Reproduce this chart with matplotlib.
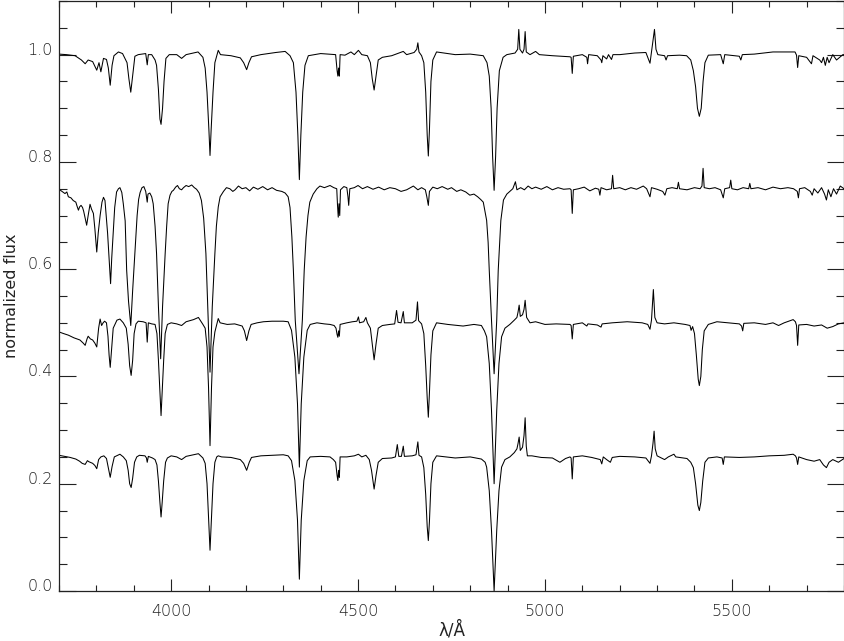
import matplotlib
matplotlib.use("Agg")
import matplotlib.pyplot as plt
from matplotlib.ticker import MultipleLocator

#===== DATA (wavelength in Angstrom, normalized flux) =====
# top spectrum, continuum ~1.0
spec_top = [
    (3700, 1.001), (3720, 1.000), (3743, 0.998), (3760, 0.990), (3770, 0.983), (3778, 0.990),
    (3790, 0.987), (3801, 0.971), (3807, 0.985), (3812, 0.968), (3819, 0.993), (3827, 0.991),
    (3832, 0.975), (3837, 0.943), (3842, 0.980), (3847, 0.998), (3859, 1.005), (3870, 1.002),
    (3882, 0.985), (3887, 0.955), (3892, 0.930), (3897, 0.960), (3903, 0.997), (3912, 1.000),
    (3932, 1.002), (3936, 0.981), (3939, 1.000), (3948, 1.000), (3957, 0.990), (3961, 0.980),
    (3966, 0.935), (3970, 0.880), (3973, 0.870), (3977, 0.900), (3981, 0.950), (3986, 0.993),
    (3995, 1.000), (4015, 1.000), (4028, 0.993), (4040, 1.000), (4072, 1.005), (4085, 0.995),
    (4091, 0.975), (4096, 0.930), (4101, 0.860), (4104, 0.812), (4107, 0.860), (4112, 0.930),
    (4117, 0.985), (4126, 1.008), (4132, 1.000), (4160, 0.998), (4185, 0.994), (4194, 0.985),
    (4202, 0.972), (4208, 0.985), (4215, 0.996), (4240, 1.000), (4280, 1.004), (4305, 1.006),
    (4318, 0.998), (4327, 0.985), (4334, 0.930), (4339, 0.850), (4343, 0.767), (4347, 0.850),
    (4352, 0.930), (4358, 0.980), (4367, 0.998), (4400, 1.002), (4440, 1.000), (4444, 0.970),
    (4446, 0.960), (4448, 0.975), (4450, 0.960), (4452, 1.000), (4465, 0.999), (4481, 1.005),
    (4490, 1.000), (4501, 1.008), (4510, 1.000), (4525, 0.998), (4533, 0.985), (4538, 0.955),
    (4543, 0.934), (4548, 0.960), (4554, 0.990), (4565, 0.995), (4590, 0.998), (4621, 1.006),
    (4630, 1.000), (4650, 1.004), (4657, 1.010), (4660, 1.022), (4663, 1.005), (4670, 0.998),
    (4676, 0.985), (4681, 0.930), (4685, 0.850), (4688, 0.811), (4691, 0.860), (4695, 0.950),
    (4700, 0.990), (4710, 1.005), (4760, 1.000), (4800, 1.001), (4835, 0.998), (4845, 0.985),
    (4851, 0.960), (4856, 0.900), (4860, 0.810), (4864, 0.747), (4868, 0.810), (4872, 0.900),
    (4878, 0.970), (4888, 0.995), (4898, 1.000), (4920, 1.003), (4927, 1.010), (4930, 1.047),
    (4933, 1.010), (4940, 1.003), (4944, 1.010), (4947, 1.043), (4950, 1.005), (4960, 1.000),
    (4975, 1.006), (4985, 1.000), (5020, 0.998), (5067, 0.996), (5070, 0.995), (5073, 0.965),
    (5076, 0.997), (5100, 1.000), (5112, 0.995), (5114, 0.983), (5117, 1.000), (5140, 0.998),
    (5150, 0.990), (5152, 0.985), (5155, 0.998), (5165, 0.992), (5170, 1.000), (5178, 0.991),
    (5182, 1.000), (5200, 1.000), (5240, 1.003), (5270, 1.004), (5281, 0.984), (5285, 1.005),
    (5290, 1.030), (5293, 1.047), (5297, 1.010), (5302, 1.000), (5320, 0.998), (5324, 0.990),
    (5328, 0.998), (5360, 0.999), (5379, 0.998), (5390, 0.990), (5397, 0.970), (5403, 0.940),
    (5408, 0.900), (5413, 0.885), (5418, 0.900), (5423, 0.950), (5428, 0.985), (5437, 0.999),
    (5470, 1.000), (5477, 0.983), (5481, 1.000), (5520, 0.997), (5524, 0.990), (5528, 1.000),
    (5560, 1.001), (5610, 1.005), (5669, 1.005), (5673, 0.999), (5676, 0.976), (5679, 0.998),
    (5700, 0.995), (5713, 0.983), (5717, 0.998), (5735, 0.990), (5740, 0.985), (5745, 0.995),
    (5750, 0.980), (5755, 0.995), (5760, 0.985), (5770, 1.000), (5780, 0.990), (5797, 1.000),
    (5800, 1.000),
]

# second spectrum, continuum ~0.75, broad Balmer lines
spec_second = [
    (3700, .749), (3708, .745), (3716, .741), (3721, .744), (3725, .735), (3732, .733),
    (3738, .728), (3745, .725), (3749, .716), (3752, .710), (3755, .716), (3759, .719),
    (3763, .715), (3766, .708), (3770, .695), (3774, .682), (3778, .700), (3783, .721),
    (3787, .712), (3792, .704), (3796, .675), (3801, .632), (3805, .668), (3810, .700),
    (3815, .725), (3819, .734), (3823, .728), (3830, .667), (3834, .620), (3838, .573),
    (3841, .620), (3845, .667), (3849, .715), (3854, .744), (3859, .750), (3863, .752),
    (3868, .743), (3872, .722), (3877, .690), (3881, .598), (3886, .540), (3892, .495),
    (3897, .560), (3903, .629), (3909, .700), (3913, .730), (3917, .743), (3922, .752),
    (3927, .754), (3932, .745), (3934, .735), (3936, .725), (3938, .740), (3943, .742),
    (3948, .735), (3952, .722), (3957, .680), (3961, .629), (3966, .530), (3972, .433),
    (3977, .530), (3984, .629), (3988, .680), (3992, .722), (3997, .738), (4002, .745),
    (4006, .747), (4012, .753), (4017, .756), (4022, .750), (4028, .748), (4033, .752),
    (4040, .756), (4047, .754), (4055, .757), (4062, .752), (4068, .749), (4075, .742),
    (4081, .728), (4087, .695), (4093, .629), (4098, .530), (4104, .408), (4110, .530),
    (4117, .629), (4121, .680), (4126, .716), (4131, .735), (4140, .745), (4148, .752),
    (4157, .750), (4165, .745), (4171, .748), (4180, .755), (4190, .750), (4200, .752),
    (4210, .746), (4220, .753), (4232, .749), (4245, .754), (4258, .748), (4270, .752),
    (4282, .747), (4296, .745), (4305, .742), (4313, .735), (4318, .715), (4323, .660),
    (4327, .598), (4332, .505), (4342, .405), (4351, .505), (4356, .598), (4361, .660),
    (4366, .700), (4371, .725), (4380, .740), (4390, .750), (4398, .755), (4410, .752),
    (4425, .756), (4435, .752), (4443, .750), (4445, .720), (4447, .697), (4449, .722),
    (4451, .700), (4453, .748), (4462, .754), (4470, .752), (4473, .735), (4475, .719),
    (4478, .750), (4490, .752), (4500, .756), (4512, .750), (4525, .754), (4540, .749),
    (4555, .753), (4570, .748), (4585, .752), (4600, .750), (4615, .745), (4630, .748),
    (4640, .752), (4648, .755), (4660, .748), (4670, .752), (4680, .748), (4684, .735),
    (4688, .719), (4691, .745), (4700, .753), (4712, .750), (4725, .754), (4740, .749),
    (4750, .752), (4764, .745), (4775, .748), (4788, .744), (4799, .738), (4810, .740),
    (4820, .735), (4828, .730), (4835, .725), (4844, .691), (4848, .650), (4851, .598),
    (4857, .505), (4864, .405), (4871, .505), (4875, .598), (4879, .650), (4882, .691),
    (4889, .729), (4898, .740), (4906, .745), (4914, .750), (4921, .763), (4925, .748),
    (4935, .752), (4945, .748), (4955, .755), (4965, .750), (4975, .753), (4990, .749),
    (5005, .754), (5020, .748), (5035, .752), (5050, .749), (5067, .750), (5070, .748),
    (5073, .704), (5076, .748), (5090, .750), (5105, .753), (5120, .746), (5135, .751),
    (5144, .749), (5147, .738), (5150, .752), (5165, .748), (5178, .750), (5181, .775),
    (5184, .750), (5200, .752), (5215, .748), (5230, .752), (5245, .749), (5263, .755),
    (5272, .750), (5281, .735), (5285, .752), (5300, .749), (5315, .745), (5321, .738),
    (5326, .750), (5340, .752), (5354, .750), (5357, .762), (5360, .750), (5380, .748),
    (5400, .752), (5415, .750), (5420, .755), (5423, .788), (5426, .752), (5440, .750),
    (5455, .752), (5470, .748), (5477, .733), (5481, .750), (5494, .752), (5497, .766),
    (5500, .750), (5515, .748), (5530, .752), (5545, .750), (5548, .760), (5551, .750),
    (5570, .752), (5590, .748), (5610, .753), (5630, .750), (5650, .752), (5665, .750),
    (5675, .745), (5678, .733), (5681, .750), (5695, .752), (5710, .745), (5715, .738),
    (5720, .750), (5730, .742), (5740, .752), (5748, .740), (5753, .729), (5758, .748),
    (5765, .735), (5772, .750), (5780, .740), (5790, .755), (5800, .750),
]

# third spectrum, continuum ~0.5
spec_third = [
    (3700, .483), (3712, .480), (3725, .477), (3740, .472), (3756, .468), (3765, .462),
    (3770, .458), (3775, .470), (3778, .475), (3784, .470), (3790, .468), (3796, .462),
    (3801, .455), (3806, .490), (3810, .507), (3814, .495), (3818, .500), (3822, .503),
    (3827, .500), (3831, .475), (3834, .440), (3837, .417), (3840, .445), (3845, .490),
    (3855, .505), (3863, .507), (3872, .500), (3880, .490), (3885, .460), (3889, .420),
    (3893, .402), (3897, .430), (3901, .480), (3906, .498), (3912, .503), (3925, .502),
    (3933, .500), (3936, .464), (3939, .500), (3948, .498), (3957, .497), (3962, .480),
    (3966, .430), (3970, .370), (3973, .327), (3976, .370), (3980, .430), (3984, .480),
    (3990, .497), (4000, .500), (4015, .498), (4028, .495), (4040, .502), (4060, .506),
    (4073, .510), (4085, .497), (4091, .490), (4096, .455), (4100, .380), (4104, .271),
    (4108, .380), (4112, .455), (4117, .483), (4123, .500), (4126, .508), (4131, .500),
    (4150, .497), (4170, .498), (4190, .494), (4196, .485), (4202, .467), (4208, .485),
    (4214, .497), (4230, .500), (4247, .502), (4270, .503), (4300, .503), (4313, .502),
    (4322, .486), (4331, .436), (4338, .349), (4343, .231), (4348, .349), (4355, .436),
    (4364, .486), (4372, .497), (4390, .500), (4410, .498), (4425, .497), (4436, .495),
    (4441, .490), (4444, .478), (4446, .473), (4448, .485), (4450, .475), (4452, .497),
    (4470, .500), (4485, .502), (4497, .503), (4501, .511), (4504, .500), (4515, .502),
    (4521, .510), (4525, .500), (4533, .490), (4538, .460), (4543, .431), (4548, .460),
    (4554, .490), (4565, .495), (4585, .497), (4598, .498), (4603, .523), (4607, .501),
    (4615, .500), (4621, .521), (4624, .500), (4645, .500), (4655, .505), (4659, .539),
    (4662, .504), (4670, .498), (4676, .480), (4681, .420), (4685, .360), (4688, .324),
    (4691, .370), (4695, .440), (4700, .485), (4710, .500), (4740, .497), (4781, .494),
    (4810, .497), (4830, .495), (4838, .485), (4844, .474), (4851, .424), (4857, .337),
    (4864, .200), (4871, .337), (4877, .424), (4884, .474), (4893, .490), (4906, .497),
    (4918, .505), (4925, .510), (4928, .520), (4931, .533), (4934, .512), (4940, .515),
    (4944, .525), (4947, .542), (4951, .510), (4960, .500), (4975, .502), (5000, .497),
    (5030, .498), (5067, .497), (5070, .495), (5073, .470), (5076, .497), (5100, .500),
    (5112, .494), (5115, .498), (5140, .496), (5150, .492), (5153, .498), (5180, .500),
    (5220, .502), (5260, .500), (5275, .497), (5281, .488), (5285, .505), (5290, .562),
    (5294, .510), (5300, .500), (5320, .498), (5345, .500), (5375, .497), (5388, .495),
    (5391, .486), (5395, .493), (5400, .480), (5405, .440), (5410, .395), (5413, .383),
    (5417, .400), (5421, .450), (5426, .485), (5437, .497), (5460, .502), (5490, .500),
    (5520, .498), (5526, .494), (5529, .485), (5532, .499), (5560, .500), (5590, .497),
    (5610, .500), (5625, .495), (5640, .500), (5664, .506), (5670, .502), (5673, .495),
    (5676, .458), (5679, .496), (5700, .497), (5720, .494), (5740, .496), (5755, .490),
    (5770, .493), (5785, .498), (5800, .500),
]

# bottom spectrum, continuum ~0.25
spec_bottom = [
    (3700, .253), (3715, .251), (3730, .249), (3745, .246), (3755, .242), (3762, .238),
    (3770, .236), (3776, .243), (3780, .241), (3790, .238), (3796, .234), (3801, .228),
    (3806, .245), (3812, .250), (3820, .252), (3827, .247), (3832, .230), (3837, .212),
    (3842, .232), (3848, .250), (3863, .255), (3872, .250), (3880, .243), (3885, .225),
    (3889, .200), (3893, .193), (3897, .210), (3902, .240), (3908, .250), (3915, .253),
    (3930, .252), (3934, .248), (3936, .240), (3939, .251), (3950, .248), (3957, .245),
    (3962, .235), (3966, .205), (3970, .165), (3973, .138), (3976, .165), (3980, .205),
    (3985, .240), (3990, .248), (4000, .252), (4015, .250), (4028, .245), (4040, .251),
    (4060, .254), (4073, .256), (4085, .248), (4091, .238), (4096, .200), (4100, .140),
    (4104, .076), (4108, .140), (4112, .200), (4117, .240), (4122, .250), (4126, .252),
    (4135, .250), (4160, .249), (4185, .245), (4194, .238), (4202, .225), (4209, .240),
    (4215, .249), (4240, .252), (4270, .253), (4300, .254), (4313, .252), (4322, .243),
    (4331, .206), (4338, .132), (4343, .022), (4348, .132), (4355, .206), (4364, .243),
    (4372, .250), (4400, .251), (4425, .250), (4434, .245), (4440, .240), (4444, .215),
    (4446, .206), (4448, .225), (4450, .212), (4452, .250), (4470, .250), (4490, .252),
    (4501, .255), (4510, .250), (4521, .253), (4530, .245), (4536, .225), (4543, .190),
    (4548, .215), (4554, .240), (4565, .247), (4590, .248), (4600, .250), (4605, .273),
    (4609, .251), (4616, .251), (4621, .270), (4624, .251), (4645, .252), (4655, .254),
    (4660, .278), (4663, .253), (4670, .250), (4676, .230), (4681, .180), (4685, .120),
    (4688, .094), (4691, .130), (4695, .200), (4700, .240), (4710, .252), (4760, .248),
    (4800, .250), (4830, .246), (4840, .240), (4844, .231), (4851, .187), (4857, .113),
    (4864, .000), (4871, .113), (4877, .187), (4884, .231), (4893, .245), (4906, .250),
    (4918, .258), (4925, .265), (4928, .275), (4931, .287), (4934, .262), (4940, .268),
    (4944, .290), (4947, .323), (4950, .270), (4953, .252), (4965, .252), (4990, .249),
    (5020, .248), (5040, .240), (5055, .247), (5067, .250), (5070, .248), (5073, .209),
    (5076, .250), (5100, .252), (5125, .249), (5148, .245), (5152, .237), (5156, .250),
    (5165, .245), (5175, .240), (5180, .249), (5200, .251), (5240, .250), (5270, .248),
    (5281, .238), (5285, .252), (5289, .275), (5292, .298), (5295, .265), (5300, .252),
    (5320, .245), (5330, .250), (5345, .255), (5350, .250), (5380, .247), (5390, .240),
    (5397, .230), (5403, .200), (5409, .160), (5413, .150), (5417, .165), (5422, .205),
    (5428, .240), (5437, .248), (5460, .250), (5474, .248), (5477, .236), (5480, .250),
    (5520, .249), (5560, .250), (5600, .252), (5640, .253), (5664, .255), (5670, .252),
    (5673, .248), (5676, .236), (5679, .250), (5700, .245), (5720, .242), (5735, .245),
    (5745, .235), (5753, .230), (5760, .240), (5770, .245), (5785, .240), (5800, .247),
]

SPECTRA = [spec_top, spec_second, spec_third, spec_bottom]

X_MAJOR = [4000, 4500, 5000, 5500]
Y_MAJOR = [0.0, 0.2, 0.4, 0.6, 0.8, 1.0]

#===== PLOT =====
plt.rcParams['font.family'] = ['DejaVu Sans']
plt.rcParams['font.weight'] = 'light'

fig = plt.figure(figsize=(8.45, 6.41), dpi=100)
ax = fig.add_axes([59/845, 50/641, 785/845, 590/641])

for spec in SPECTRA:
    wl, flux = zip(*spec)
    ax.plot(wl, flux, color="black", lw=0.75)

ax.set_xlim(3700, 5800)
ax.set_ylim(0.0, 1.1)
ax.set_xticks(X_MAJOR)
ax.set_yticks(Y_MAJOR)
ax.set_yticklabels([f"{v:.1f}" for v in Y_MAJOR])
ax.xaxis.set_minor_locator(MultipleLocator(100))
ax.yaxis.set_minor_locator(MultipleLocator(0.05))

ax.tick_params(which="both", direction="in", top=True, right=True,
               labelsize=11.5, colors="#222222", width=0.8)
ax.tick_params(axis="x", which="major", length=8.5, pad=9)
ax.tick_params(axis="x", which="minor", length=4.3)
ax.tick_params(axis="y", which="major", length=12, pad=4.5)
ax.tick_params(axis="y", which="minor", length=6)
for lab in ax.get_yticklabels():
    lab.set_verticalalignment("baseline")
for s in ax.spines.values():
    s.set_linewidth(0.9)
    s.set_color("#222222")

ax.set_xlabel("λ/Å", fontsize=12, labelpad=2, color="#222222")
ax.set_ylabel("normalized flux", fontsize=11.5, labelpad=6, color="#222222")

plt.savefig("out.png", dpi=100)
